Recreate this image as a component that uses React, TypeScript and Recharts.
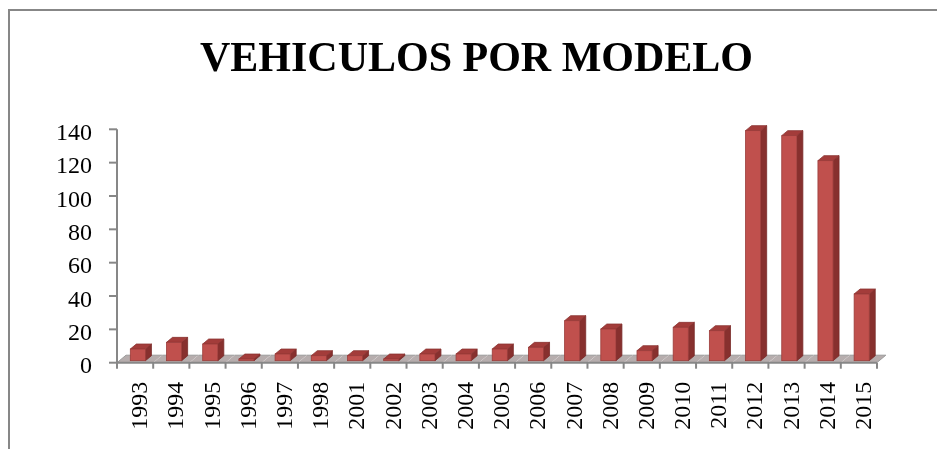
import { BarChart, Bar, XAxis, YAxis } from "recharts";

const modelos = [
  "1993", "1994", "1995", "1996", "1997", "1998", "2001", "2002", "2003", "2004", "2005",
  "2006", "2007", "2008", "2009", "2010", "2011", "2012", "2013", "2014", "2015",
];
const vehiculos = [7, 11, 10, 1, 4, 3, 3, 1, 4, 4, 7, 8, 24, 19, 6, 20, 18, 138, 135, 120, 40];
const yTicks = [0, 20, 40, 60, 80, 100, 120, 140];

const data = modelos.map((m, i) => ({ modelo: m, vehiculos: vehiculos[i] }));

const FONT = "'Liberation Serif', 'Times New Roman', serif";
const GREY = "#878787";
const BAND = 760 / modelos.length;

// piso 3D, un trozo por categoria
function Floor(props: any) {
  const { x, y, width, height, index } = props;
  const base = y + height;
  const dx = 9;
  const dy = 7.5;
  const last = index === modelos.length - 1;
  return (
    <g>
      <polygon
        points={`${x},${base} ${x + width},${base} ${x + width + dx},${base - dy} ${x + dx},${base - dy}`}
        fill="#b6adad"
      />
      <line x1={x + dx} y1={base - dy} x2={x + width + dx} y2={base - dy} stroke="#9a9a9a" strokeWidth={1} />
      {index === 0 && (
        <line x1={x} y1={base} x2={x + dx} y2={base - dy} stroke="#9a9a9a" strokeWidth={1} />
      )}
      {last && (
        <line x1={x + width} y1={base} x2={x + width + dx} y2={base - dy} stroke="#9a9a9a" strokeWidth={1} />
      )}
    </g>
  );
}

function Bar3D(props: any) {
  const { x, y, width, height } = props;
  const fx = x + width * 0.37;
  const fw = width * 0.42;
  const top = y - 2;
  const base = y + height - 2;
  const dx = 6;
  const dy = 5;
  return (
    <g>
      <polygon
        points={`${fx + fw},${top} ${fx + fw + dx},${top - dy} ${fx + fw + dx},${base - dy} ${fx + fw},${base}`}
        fill="#87302e"
        stroke="#7a2b29"
        strokeWidth={0.8}
      />
      <polygon
        points={`${fx},${top} ${fx + fw},${top} ${fx + fw + dx},${top - dy} ${fx + dx},${top - dy}`}
        fill="#a33c3a"
        stroke="#8a3331"
        strokeWidth={0.8}
      />
      <rect x={fx} y={top} width={fw} height={Math.max(base - top, 0)} fill="#c0504d" stroke="#9b3c3a" strokeWidth={0.8} />
    </g>
  );
}

function YTick(props: any) {
  const { x, y, payload } = props;
  return (
    <text x={x} y={y + 2} dy="0.355em" textAnchor="end" fontFamily={FONT} fontSize={24} fill="#000">
      {payload.value}
    </text>
  );
}

function XTick(props: any) {
  const { x, y, payload, index } = props;
  const last = index === modelos.length - 1;
  const ty = y + 19;
  const tx = x + 4;
  return (
    <g>
      <line x1={x - BAND / 2} y1={y} x2={x - BAND / 2} y2={y + 6} stroke={GREY} strokeWidth={2} />
      {last && <line x1={x + BAND / 2} y1={y} x2={x + BAND / 2} y2={y + 6} stroke={GREY} strokeWidth={2} />}
      <text
        x={tx}
        y={ty}
        dy="0.34em"
        textAnchor="end"
        transform={`rotate(-90, ${tx}, ${ty})`}
        fontFamily={FONT}
        fontSize={24}
        fill="#000"
      >
        {payload.value}
      </text>
    </g>
  );
}

export default function App() {
  return (
    <div style={{ position: "relative", width: 929, height: 433 }}>
      <div
        style={{
          position: "fixed",
          left: 8,
          top: 9,
          width: 1000,
          height: 1000,
          borderTop: `2px solid ${GREY}`,
          borderLeft: `2px solid ${GREY}`,
        }}
      />
      <div
        style={{
          position: "absolute",
          left: 8,
          top: 28,
          width: 921,
          textAlign: "center",
          fontFamily: FONT,
          fontWeight: "bold",
          fontSize: 42,
          lineHeight: "42px",
          color: "#000",
        }}
      >
        VEHICULOS POR MODELO
      </div>
      <div style={{ position: "absolute", left: 0, top: 0 }}>
        <BarChart
          width={929}
          height={433}
          data={data}
          barCategoryGap={0}
          margin={{ top: 121.3, right: 60, bottom: 0, left: 0 }}
        >
          <XAxis
            dataKey="modelo"
            interval={0}
            height={78.3}
            tickSize={0}
            tickMargin={0}
            tickLine={false}
            axisLine={{ stroke: GREY, strokeWidth: 2 }}
            tick={XTick}
          />
          <YAxis
            width={109}
            domain={[0, 140]}
            ticks={yTicks}
            interval={0}
            tickSize={8}
            tickMargin={17}
            tickLine={{ stroke: GREY, strokeWidth: 2 }}
            axisLine={{ stroke: GREY, strokeWidth: 2 }}
            tick={YTick}
          />
          <Bar
            dataKey="vehiculos"
            shape={Bar3D}
            background={Floor}
            isAnimationActive={false}
          />
        </BarChart>
      </div>
    </div>
  );
}
